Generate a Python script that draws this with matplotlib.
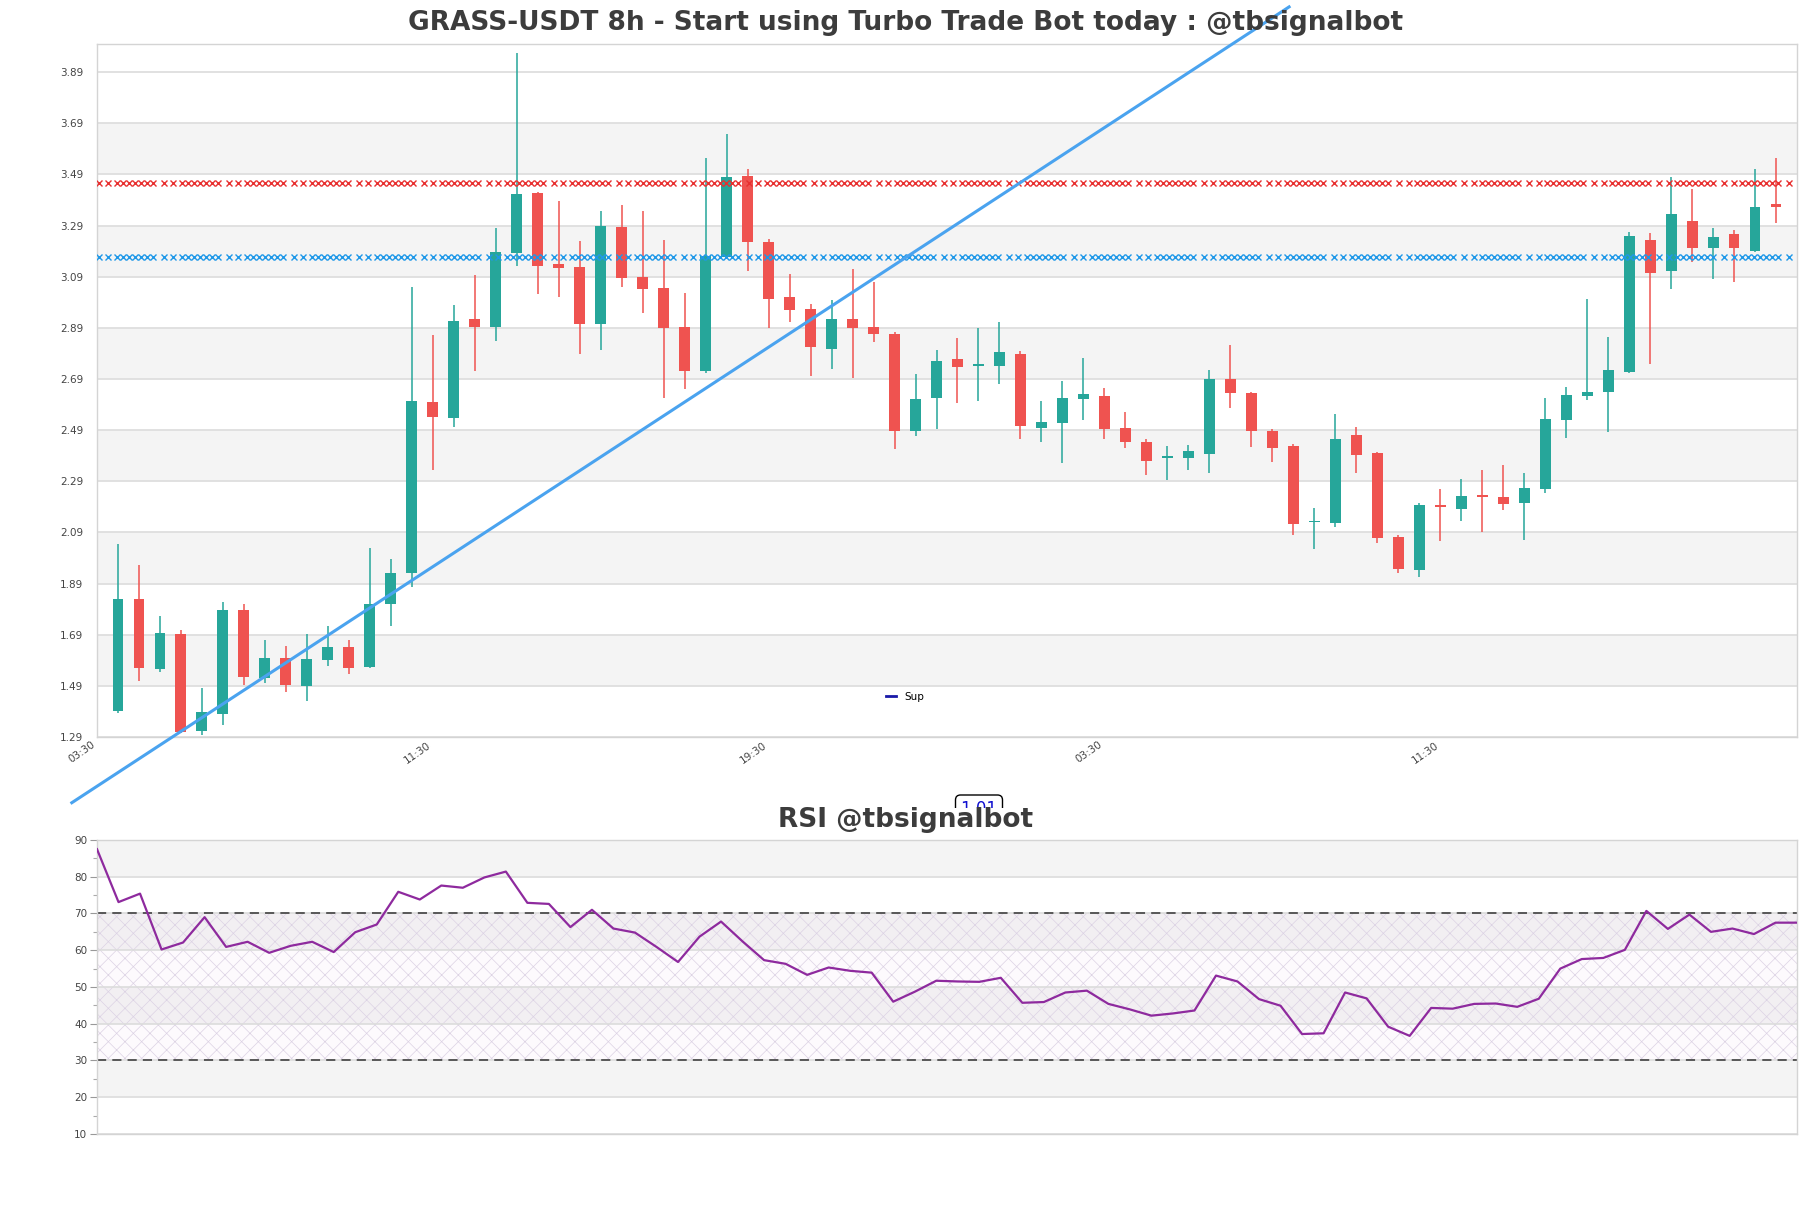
import numpy as np
import matplotlib
matplotlib.use('Agg')
import matplotlib.pyplot as plt
import matplotlib.transforms as mtransforms
from matplotlib.lines import Line2D
from matplotlib.patches import Rectangle

# candles, 8h
opens = [1.39, 1.83, 1.557, 1.693, 1.315, 1.381, 1.787, 1.522, 1.599, 1.491,
         1.593, 1.642, 1.565, 1.811, 1.933, 2.60, 2.539, 2.924, 2.894, 3.184,
         3.417, 3.139, 3.128, 2.906, 3.284, 3.089, 3.046, 2.893, 2.722, 3.168,
         3.483, 3.225, 3.01, 2.964, 2.808, 2.924, 2.893, 2.866, 2.488, 2.614,
         2.768, 2.740, 2.742, 2.787, 2.50, 2.519, 2.612, 2.625, 2.497, 2.443,
         2.381, 2.382, 2.398, 2.691, 2.634, 2.487, 2.428, 2.129, 2.127, 2.471,
         2.402, 2.073, 1.943, 2.196, 2.183, 2.236, 2.229, 2.206, 2.260, 2.530,
         2.623, 2.640, 2.716, 3.233, 3.113, 3.309, 3.201, 3.257, 3.191, 3.374]
highs = [2.045, 1.963, 1.763, 1.709, 1.482, 1.818, 1.81, 1.669, 1.646, 1.693,
         1.724, 1.669, 2.029, 1.986, 3.05, 2.862, 2.979, 3.096, 3.279, 3.964,
         3.42, 3.386, 3.229, 3.347, 3.37, 3.347, 3.233, 3.025, 3.553, 3.648,
         3.51, 3.236, 3.1, 2.983, 2.999, 3.121, 3.069, 2.875, 2.709, 2.803,
         2.849, 2.888, 2.911, 2.80, 2.605, 2.682, 2.773, 2.653, 2.560, 2.454,
         2.428, 2.432, 2.727, 2.823, 2.64, 2.493, 2.434, 2.184, 2.553, 2.502,
         2.405, 2.08, 2.204, 2.259, 2.298, 2.334, 2.354, 2.324, 2.614, 2.659,
         3.003, 2.853, 3.263, 3.259, 3.478, 3.433, 3.279, 3.272, 3.511, 3.554]
lows = [1.385, 1.51, 1.546, 1.305, 1.299, 1.338, 1.494, 1.503, 1.467, 1.432,
        1.569, 1.538, 1.561, 1.725, 1.878, 2.334, 2.503, 2.722, 2.84, 3.133,
        3.023, 3.012, 2.789, 2.803, 3.051, 2.949, 2.617, 2.652, 2.715, 3.16,
        3.113, 2.89, 2.914, 2.703, 2.728, 2.695, 2.833, 2.416, 2.468, 2.494,
        2.596, 2.605, 2.67, 2.455, 2.445, 2.363, 2.530, 2.455, 2.421, 2.316,
        2.295, 2.334, 2.324, 2.577, 2.425, 2.367, 2.081, 2.026, 2.112, 2.323,
        2.050, 1.930, 1.917, 2.058, 2.136, 2.093, 2.178, 2.060, 2.246, 2.460,
        2.609, 2.484, 2.713, 2.749, 3.040, 3.148, 3.079, 3.070, 3.188, 3.301]
closes = [1.83, 1.56, 1.697, 1.311, 1.388, 1.787, 1.526, 1.599, 1.494, 1.595,
          1.642, 1.561, 1.81, 1.931, 2.605, 2.543, 2.917, 2.894, 3.186, 3.412,
          3.133, 3.125, 2.906, 3.288, 3.086, 3.043, 2.89, 2.722, 3.171, 3.48,
          3.227, 3.004, 2.961, 2.816, 2.924, 2.89, 2.865, 2.488, 2.612, 2.760,
          2.738, 2.746, 2.795, 2.507, 2.522, 2.614, 2.630, 2.494, 2.443, 2.370,
          2.385, 2.408, 2.691, 2.636, 2.488, 2.421, 2.124, 2.133, 2.455, 2.393,
          2.070, 1.947, 2.197, 2.188, 2.232, 2.230, 2.202, 2.264, 2.532, 2.627,
          2.640, 2.725, 3.249, 3.105, 3.335, 3.201, 3.245, 3.203, 3.362, 3.361]

rsi = [87.5, 73.1, 75.4, 60.2, 62.1, 69.0, 60.9, 62.3, 59.3, 61.2,
       62.3, 59.5, 64.9, 67.0, 75.9, 73.8, 77.6, 77.0, 79.8, 81.4,
       72.9, 72.6, 66.3, 71.0, 65.9, 64.8, 60.9, 56.8, 63.7, 67.8,
       62.4, 57.3, 56.3, 53.3, 55.3, 54.4, 53.9, 46.0, 48.7, 51.7,
       51.5, 51.4, 52.5, 45.7, 45.9, 48.5, 49.0, 45.4, 43.9, 42.2,
       42.8, 43.6, 53.1, 51.5, 46.7, 44.9, 37.2, 37.4, 48.5, 46.9,
       39.2, 36.7, 44.3, 44.1, 45.4, 45.5, 44.6, 46.8, 55.0, 57.6,
       57.9, 60.1, 70.7, 65.8, 69.7, 65.0, 65.9, 64.4, 67.5, 67.5]

resistance = 3.457
support = 3.168
trend_x = [-2.2, 55.8]
trend_y = [1.033, 4.145]

xtick_pos = [-1, 15, 31, 47, 63]
xtick_labels = ['03:30', '11:30', '19:30', '03:30', '11:30']
price_ticks = [1.29, 1.49, 1.69, 1.89, 2.09, 2.29, 2.49, 2.69, 2.89, 3.09, 3.29, 3.49, 3.69, 3.89]

up_col = '#26a69a'
down_col = '#ef5350'
band_col = '#f4f4f4'
grid_col = '#dcdcdc'
spine_col = '#d4d4d4'
text_col = '#444444'

fig = plt.figure(figsize=(18.11, 12.08), dpi=100)
ax = fig.add_axes([0.05356, 0.3899, 0.93871, 0.5737])
ax2 = fig.add_axes([0.05356, 0.06126, 0.93871, 0.2434])

o = np.array(opens); h = np.array(highs); l = np.array(lows); c = np.array(closes)
x = np.arange(len(o))
cols = np.where(c >= o, up_col, down_col)

# price panel
ax.set_xlim(-1, len(o))
ax.set_ylim(1.29, 4.0)
for i in range(1, len(price_ticks) - 1, 2):
    ax.axhspan(price_ticks[i], price_ticks[i + 1], color=band_col, zorder=0, lw=0)
ax.set_yticks(price_ticks)
ax.set_yticklabels(['%.2f' % t for t in price_ticks])
ax.grid(axis='y', color=grid_col, lw=1.2, zorder=0.5)
ax.set_axisbelow(True)

ax.vlines(x, l, h, colors=cols, lw=1.1, zorder=2)
body = np.maximum(np.abs(c - o), 0.007)
ax.bar(x, body, bottom=np.minimum(o, c), width=0.52, color=cols, zorder=3, lw=0)

# level lines drawn as a chain of x marks
trans = mtransforms.blended_transform_factory(ax.transAxes, ax.transData)
period = 65.0
offs = np.array([2, 11.5, 20, 26, 32, 38, 44, 50, 56])
pts = (np.arange(0, 27)[:, None] * period + offs[None, :]).ravel()
pts = pts[pts < 1700] / 1700.0
for lvl, col in [(resistance, '#e83030'), (support, '#1e98e8')]:
    ax.plot(pts, np.full(len(pts), lvl), transform=trans, ls='none', marker='x',
            ms=4.5, mew=1.0, color=col, zorder=4)

ax.plot(trend_x, trend_y, color='#4aa3ef', lw=2.2, zorder=10, clip_on=False)

ax.set_xticks(xtick_pos)
ax.set_xticklabels(xtick_labels, rotation=35, ha='right', fontsize=7.5, color=text_col)
ax.tick_params(axis='x', length=0, pad=2)
ax.tick_params(axis='y', length=0, pad=10, labelsize=7.5, labelcolor=text_col)
for s in ax.spines.values():
    s.set_color(spine_col)
    s.set_linewidth(1.0)

leg = ax.legend(handles=[Line2D([], [], color='#1a1aa8', lw=2)], labels=['Sup'],
                loc='center', bbox_to_anchor=(905 / 1811, 1 - 697 / 1208),
                bbox_transform=fig.transFigure, frameon=False, fontsize=7.5,
                handlelength=1.0, handletextpad=0.8)

# RSI panel
ax2.set_xlim(0, len(rsi) - 1)
ax2.set_ylim(10, 90)
for lo, hi in [(20, 30), (40, 50), (60, 70), (80, 90)]:
    ax2.axhspan(lo, hi, color=band_col, zorder=0, lw=0)
ax2.axhspan(30, 70, facecolor='#9c27b0', alpha=0.02, zorder=0.2, lw=0)
plt.rcParams['hatch.linewidth'] = 0.5
ax2.axhspan(30, 70, facecolor='none', edgecolor='#dcd2e4', hatch='xx', lw=0, zorder=0.3)
ax2.set_yticks(np.arange(10, 91, 10))
ax2.set_yticks(np.arange(15, 90, 10), minor=True)
ax2.grid(axis='y', which='major', color=grid_col, lw=1.2, zorder=0.5)
ax2.set_axisbelow(True)
ax2.axhline(70, color='#333333', ls=(0, (6, 4)), lw=1.1, zorder=2)
ax2.axhline(30, color='#333333', ls=(0, (6, 4)), lw=1.1, zorder=2)
ax2.plot(np.arange(len(rsi)), rsi, color='#8e2a9e', lw=1.6, zorder=3)
ax2.set_xticks([])
ax2.tick_params(axis='y', which='major', length=5, width=0.8, color='#999999',
                labelsize=7.5, labelcolor=text_col, pad=2)
ax2.tick_params(axis='y', which='minor', length=3, width=0.8, color='#aaaaaa')
for s in ax2.spines.values():
    s.set_color(spine_col)
    s.set_linewidth(1.0)

fig.text(0.5, 1 - 23 / 1208, 'GRASS-USDT 8h - Start using Turbo Trade Bot today : @tbsignalbot',
         ha='center', va='center', fontsize=19, fontweight='bold', color='#3c3c3c')

# value tag, its lower half hidden behind the RSI title strip
fig.text(979 / 1811, 1 - 809 / 1208, '1.01', ha='center', va='center', fontsize=12,
         color='#1010d0', zorder=1,
         bbox=dict(boxstyle='round,pad=0.3', fc='white', ec='black', lw=1))
fig.patches.append(Rectangle((930 / 1811, 1 - 838 / 1208), 100 / 1811, 30 / 1208,
                             transform=fig.transFigure, fc='white', ec='none', zorder=2))

fig.text(0.5, 1 - 820 / 1208, 'RSI @tbsignalbot', ha='center', va='center', fontsize=19,
         fontweight='bold', color='#3c3c3c', zorder=5)

fig.savefig('out.png', dpi=100)
